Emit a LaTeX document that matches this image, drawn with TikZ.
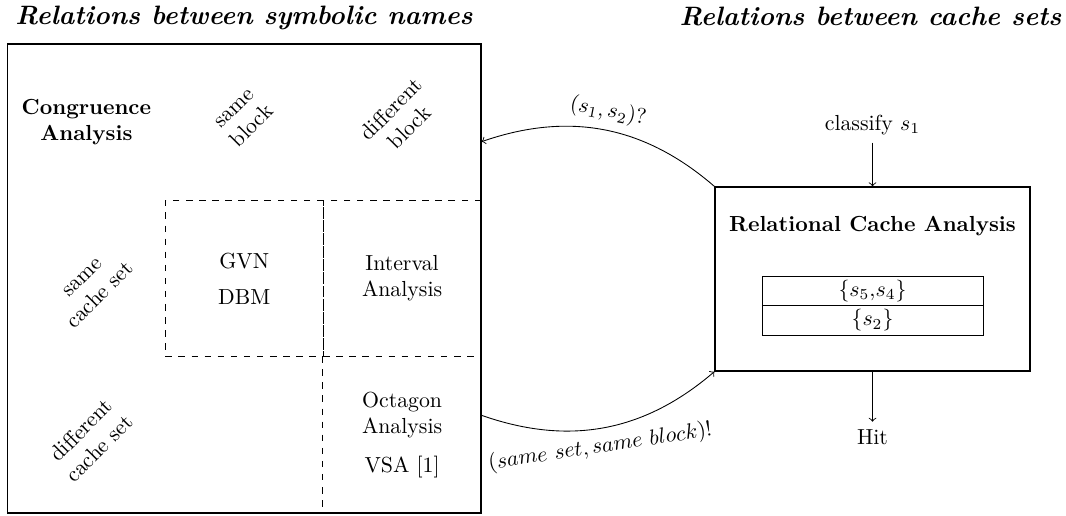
\documentclass[tikz,border=0pt]{standalone}
\usetikzlibrary{calc}
\begin{document}
\begin{tikzpicture}[x=0.4587pt,y=-0.4587pt,
  bigbox/.style={draw, semithick, inner sep=0pt},
  cell/.style={dashed, minimum width=157.8*0.4587pt, minimum height=156.3*0.4587pt, inner sep=0pt, align=center},
  rot/.style={rotate=45, align=center},
  tabrow/.style={draw, minimum width=221*0.4587pt, minimum height=29.4*0.4587pt, inner sep=0pt},
  title/.style={font=\fontsize{12.2}{14}\selectfont\bfseries\itshape, anchor=base},
  arr/.style={->}]
\useasboundingbox (0,0) rectangle (1066,516);
% titles
\node[title] (tl) at (244,25) {Relations between symbolic names};
\node[title] (tr) at (870.5,25.5) {Relations between cache sets};
% left grid
\node[bigbox, minimum width=473.5*0.4587pt, minimum height=469*0.4587pt] (sym) at (244.25,278.5) {};
\node[cell, draw] (gvn) at (244.25,278.5) {GVN\\[4.5pt]DBM};
\node[cell, draw] (int) at (402.1,278.5) {Interval\\Analysis};
\node[cell] (oct) at (402.1,434.8) {Octagon\\Analysis\\[6pt]VSA [1]};
\draw[dashed] (oct.north west) -- (oct.south west);
\node[align=center, font=\bfseries] (ca) at (86.4,122) {Congruence\\Analysis};
\node[rot] (sb) at (244,118) {same\\block};
\node[rot] (db) at (400,118) {different\\block};
\node[rot] (sc) at (92,287) {same\\cache set};
\node[rot] (dc) at (90,439) {different\\cache set};
% right box
\node[bigbox, minimum width=315*0.4587pt, minimum height=184*0.4587pt] (rca) at (872.5,279) {};
\node[font=\bfseries] (rcat) at (872.5,226) {Relational Cache Analysis};
\node[tabrow] (t1) at (872.5,291) {$\{s_5{,}s_4\}$};
\node[tabrow] (t2) at (872.5,320.4) {$\{s_2\}$};
\node (cls) at (872.5,125) {classify $s_1$};
\node (hit) at (872.5,437) {Hit};
\draw[arr] (cls) -- (rca);
\draw[arr] (rca) -- (hit);
% connectors
\coordinate (qend) at ($(sym.north east)!0.209!(sym.south east)$);
\coordinate (astart) at ($(sym.north east)!0.791!(sym.south east)$);
\draw[arr] (rca.north west) to[bend right=30] node[sloped, above] {$(s_1, s_2)?$} (qend);
\draw[arr] (astart) to[bend right=30] node[pos=0.47, sloped, below] {$(same\ set, same\ block)!$} (rca.south west);
\end{tikzpicture}
\end{document}
